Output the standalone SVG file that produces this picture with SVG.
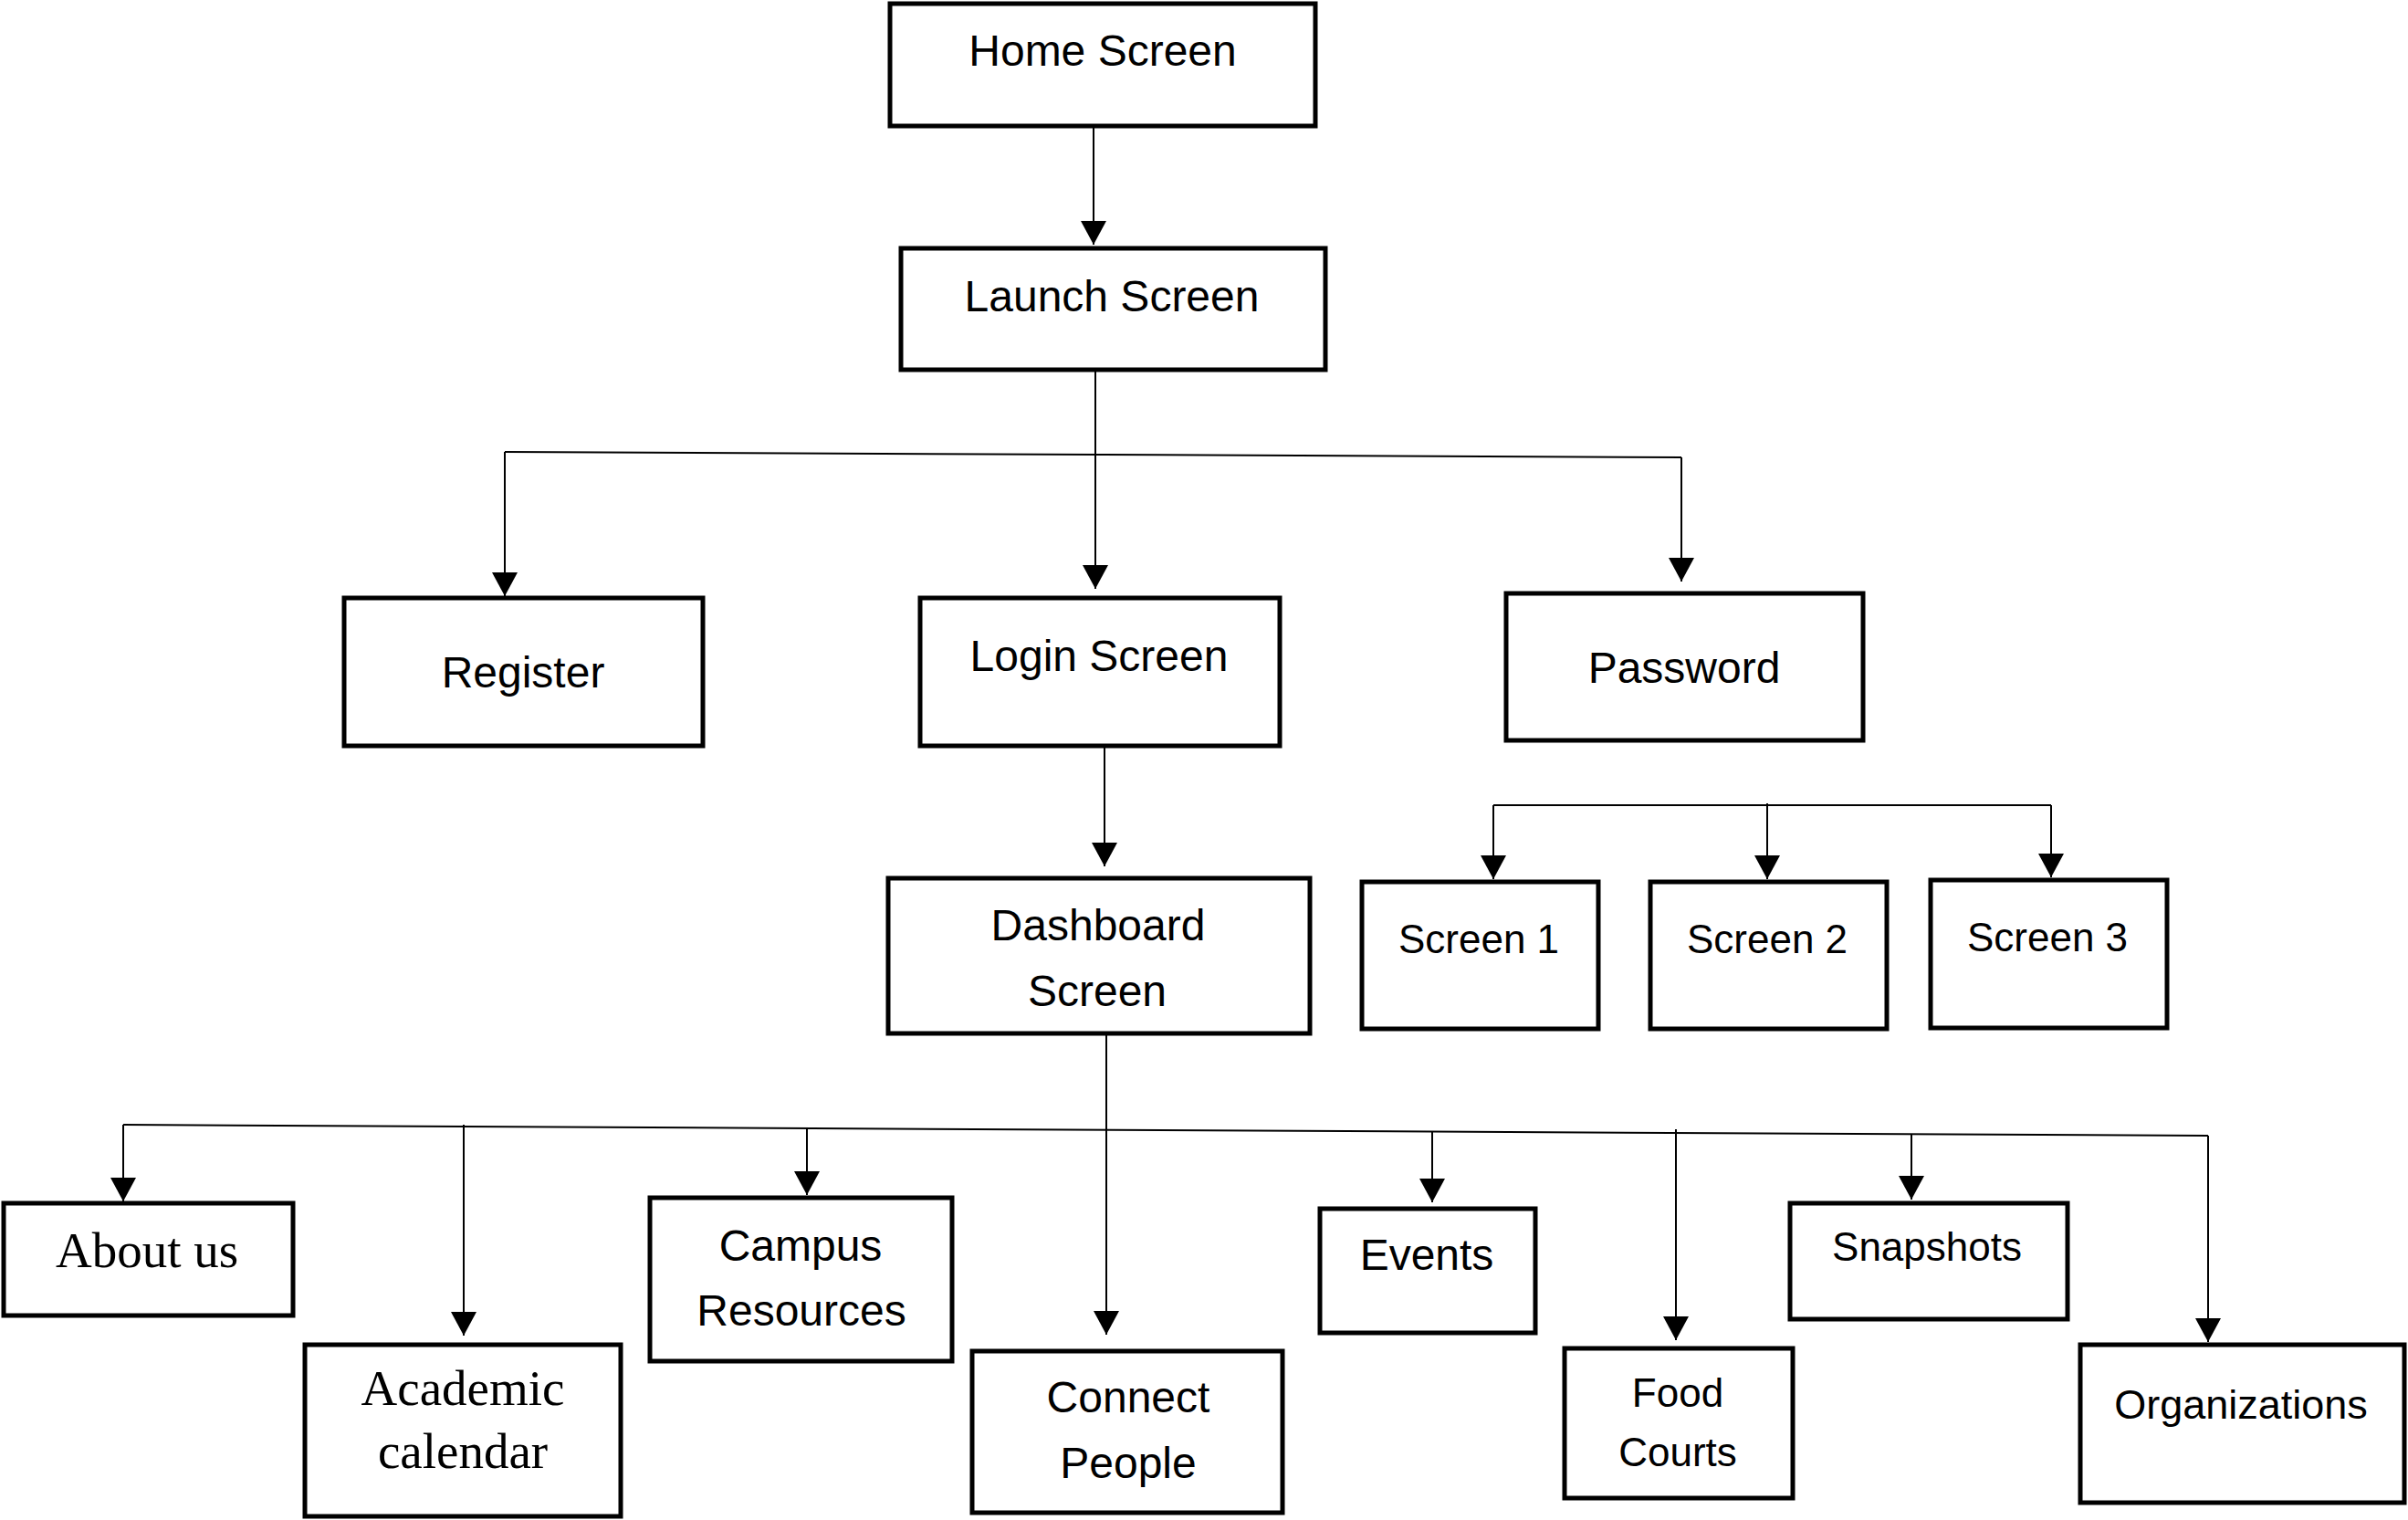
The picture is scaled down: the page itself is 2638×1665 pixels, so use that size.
<svg xmlns="http://www.w3.org/2000/svg" width="2638" height="1665" viewBox="0 0 2638 1665">
<style>
.box{fill:#fff;stroke:#000;stroke-width:5}
.t{font-family:"Liberation Sans",Arial,sans-serif;font-size:48px;text-anchor:middle;fill:#000}
.s{font-size:44px}
.tr{font-family:"Liberation Serif","Times New Roman",serif;font-size:55px;text-anchor:middle;fill:#000}
.c{fill:none;stroke:#000;stroke-width:2}
.a{fill:none;stroke:#000;stroke-width:2;marker-end:url(#arr)}
</style>
<defs>
<marker id="arr" markerUnits="userSpaceOnUse" markerWidth="27" markerHeight="28" viewBox="0 0 26 28" refX="26" refY="14" orient="auto">
<path d="M0,0 L26,14 L0,28 z" fill="#000"/>
</marker>
</defs>
<rect width="2638" height="1665" fill="#fff"/>
<g id="connectors">
<line class="a" x1="1198" y1="140" x2="1198" y2="268"/>
<line class="c" x1="1200" y1="407" x2="1200" y2="498"/>
<line class="c" x1="553" y1="495" x2="1842" y2="501"/>
<line class="a" x1="553" y1="495" x2="553" y2="653"/>
<line class="a" x1="1200" y1="498" x2="1200" y2="645"/>
<line class="a" x1="1842" y1="501" x2="1842" y2="637"/>
<line class="c" x1="1636" y1="882" x2="2247" y2="882"/>
<line class="a" x1="1636" y1="882" x2="1636" y2="963"/>
<line class="a" x1="1936" y1="880" x2="1936" y2="963"/>
<line class="a" x1="2247" y1="882" x2="2247" y2="961"/>
<line class="a" x1="1210" y1="818" x2="1210" y2="949"/>
<line class="c" x1="135" y1="1232" x2="2419" y2="1244"/>
<line class="a" x1="1212" y1="1134" x2="1212" y2="1462"/>
<line class="a" x1="135" y1="1232" x2="135" y2="1316"/>
<line class="a" x1="508" y1="1232" x2="508" y2="1463"/>
<line class="a" x1="884" y1="1236" x2="884" y2="1309"/>
<line class="a" x1="1569" y1="1240" x2="1569" y2="1317"/>
<line class="a" x1="1836" y1="1237" x2="1836" y2="1468"/>
<line class="a" x1="2094" y1="1242" x2="2094" y2="1314"/>
<line class="a" x1="2419" y1="1244" x2="2419" y2="1470"/>
</g>
<g id="home"><rect class="box" x="975" y="4" width="466" height="134"/><text class="t" x="1208" y="72">Home Screen</text></g>
<g id="launch"><rect class="box" x="987" y="272" width="465" height="133"/><text class="t" x="1218" y="341">Launch Screen</text></g>
<g id="register"><rect class="box" x="377" y="655" width="393" height="162"/><text class="t" x="573" y="753">Register</text></g>
<g id="login"><rect class="box" x="1008" y="655" width="394" height="162"/><text class="t" x="1204" y="735">Login Screen</text></g>
<g id="password"><rect class="box" x="1650" y="650" width="391" height="161"/><text class="t" x="1845" y="748">Password</text></g>
<g id="screen1"><rect class="box" x="1492" y="966" width="259" height="161"/><text class="t s" x="1620" y="1044">Screen 1</text></g>
<g id="screen2"><rect class="box" x="1808" y="966" width="259" height="161"/><text class="t s" x="1936" y="1044">Screen 2</text></g>
<g id="screen3"><rect class="box" x="2115" y="964" width="259" height="162"/><text class="t s" x="2243" y="1042">Screen 3</text></g>
<g id="dashboard"><rect class="box" x="973" y="962" width="462" height="170"/><text class="t" x="1203" y="1030">Dashboard</text><text class="t" x="1202" y="1102">Screen</text></g>
<g id="about"><rect class="box" x="4" y="1318" width="317" height="123"/><text class="tr" x="161" y="1388">About us</text></g>
<g id="academic"><rect class="box" x="334" y="1473" width="346" height="188"/><text class="tr" x="507" y="1539">Academic</text><text class="tr" x="507" y="1608">calendar</text></g>
<g id="campus"><rect class="box" x="712" y="1312" width="331" height="179"/><text class="t" x="877" y="1381">Campus</text><text class="t" x="878" y="1452">Resources</text></g>
<g id="connect"><rect class="box" x="1065" y="1480" width="340" height="177"/><text class="t" x="1236" y="1547">Connect</text><text class="t" x="1236" y="1619">People</text></g>
<g id="events"><rect class="box" x="1446" y="1324" width="236" height="136"/><text class="t" x="1563" y="1391">Events</text></g>
<g id="food"><rect class="box" x="1714" y="1477" width="250" height="164"/><text class="t s" x="1838" y="1541">Food</text><text class="t s" x="1838" y="1606">Courts</text></g>
<g id="snapshots"><rect class="box" x="1961" y="1318" width="304" height="127"/><text class="t s" x="2111" y="1381">Snapshots</text></g>
<g id="organizations"><rect class="box" x="2279" y="1473" width="355" height="173"/><text class="t" x="2455" y="1554" style="font-size:45px">Organizations</text></g>
</svg>
